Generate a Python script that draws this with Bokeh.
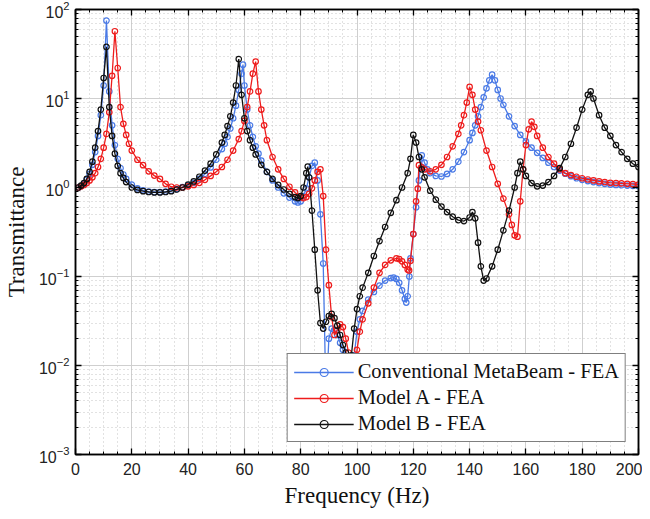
from bokeh.plotting import figure
from bokeh.models import (LinearAxis, LogAxis, SingleIntervalTicker, LogTicker,
                          Legend, LegendItem, Range1d, CustomJSTickFormatter)
from bokeh.embed import file_html
from bokeh.resources import INLINE

# ---------------- data ----------------
conv_f = [1, 2, 3, 4, 5, 6, 7, 8, 9, 10, 11, 12, 13, 14, 15, 16, 17, 18, 20, 22, 24, 26, 28, 30,
          32, 34, 36, 38, 40, 42, 44, 46, 48, 50, 52, 53, 54, 55, 56, 57, 58, 59, 59.5, 60, 61, 62,
          63, 64, 65, 66, 68, 70, 72, 74, 76, 78, 79, 80, 81, 82, 83, 84, 85, 86, 87, 88, 89, 90,
          91, 92, 93, 94, 95, 96, 97, 98, 99, 100, 101, 102, 104, 106, 108, 110, 112, 113, 114,
          115, 116, 117, 117.5, 118, 118.6, 119, 120, 121, 122, 123, 124, 125, 126, 128, 130, 132,
          134, 136, 138, 140, 141, 142, 143, 144, 145, 146, 147, 148, 149, 150, 151, 152, 154, 156,
          158, 160, 162, 164, 166, 168, 170, 172, 174, 176, 178, 180, 182, 184, 186, 188, 190, 192,
          194, 196, 198, 200]
conv_t = [1.0, 1.04, 1.1, 1.22, 1.42, 1.8, 2.5, 3.8, 6.5, 14, 75, 12, 5.0, 3.0, 2.1, 1.65, 1.4, 1.25,
          1.08, 0.98, 0.93, 0.9, 0.89, 0.89, 0.9, 0.92, 0.96, 1.01, 1.06, 1.13, 1.25, 1.42, 1.68,
          2.05, 2.7, 3.1, 3.7, 4.6, 6.0, 8.3, 12.5, 19, 24, 14, 7.5, 5.0, 3.7, 2.9, 2.4, 2.0, 1.5,
          1.2, 1.0, 0.86, 0.77, 0.7, 0.68, 0.7, 0.8, 0.98, 1.3, 1.75, 1.9, 1.2, 0.5, 0.14, 0.004,
          0.02, 0.026, 0.025, 0.022, 0.018, 0.015, 0.012, 0.009, 0.006, 0.013, 0.024, 0.033, 0.041,
          0.055, 0.067, 0.079, 0.09, 0.096, 0.097, 0.094, 0.085, 0.07, 0.056, 0.051, 0.06, 0.1,
          0.16, 0.3, 0.6, 1.2, 2.3, 1.9, 1.6, 1.45, 1.35, 1.33, 1.42, 1.6, 1.95, 2.5, 3.4, 4.1, 5.0,
          6.3, 8.0, 10.3, 13, 16, 18.5, 16, 12.5, 10, 8.5, 6.3, 4.9, 3.9, 3.3, 2.8, 2.45, 2.15, 1.9,
          1.7, 1.55, 1.43, 1.34, 1.27, 1.22, 1.18, 1.15, 1.12, 1.1, 1.08, 1.07, 1.06, 1.05, 1.045,
          1.04]

modelA_f = [1, 2, 3, 4, 5, 6, 7, 8, 9, 10, 11, 12, 13, 14, 15, 16, 17, 18, 19, 20, 22, 24, 26, 28,
            30, 32, 34, 36, 38, 40, 42, 44, 46, 48, 50, 52, 54, 56, 58, 59, 60, 61, 62, 63, 64, 65,
            66, 67, 68, 70, 72, 74, 76, 78, 80, 81, 82, 83, 84, 85, 86, 87, 88, 89, 90, 91, 92, 93,
            94, 95, 96, 97, 98, 99, 100, 101, 102, 104, 106, 108, 110, 112, 114, 115, 116, 117, 118,
            118.5, 119, 120, 121, 121.6, 122, 123, 124, 126, 128, 130, 132, 134, 136, 137, 138, 139,
            140, 141, 142, 143, 144, 146, 148, 150, 152, 154, 155, 156, 157, 158, 159, 160, 161, 162,
            163, 164, 166, 168, 170, 172, 174, 176, 178, 180, 182, 184, 186, 188, 190, 192, 194, 196,
            198, 200]
modelA_t = [1.0, 1.03, 1.07, 1.12, 1.2, 1.3, 1.45, 1.7, 2.1, 2.8, 4.0, 7.0, 18, 57, 22, 8, 5.2, 3.9,
            3.1, 2.6, 2.05, 1.78, 1.52, 1.36, 1.25, 1.1, 1.02, 1.0, 1.0, 1.03, 1.07, 1.13, 1.22, 1.35,
            1.5, 1.7, 2.05, 2.6, 3.5, 4.3, 5.6, 8, 12, 19, 26, 12, 7.5, 5.0, 3.4, 2.2, 1.6, 1.25, 1.02,
            0.88, 0.78, 0.76, 0.78, 0.85, 0.98, 1.2, 1.5, 1.6, 0.8, 0.2, 0.08, 0.035, 0.022, 0.025,
            0.029, 0.027, 0.02, 0.014, 0.01, 0.007, 0.015, 0.024, 0.033, 0.05, 0.075, 0.11, 0.135,
            0.152, 0.16, 0.157, 0.148, 0.135, 0.12, 0.117, 0.15, 0.3, 0.7, 0.97, 1.78, 1.68, 1.6,
            1.52, 1.6, 1.8, 2.2, 2.9, 4.0, 5.0, 6.5, 9, 13.5, 11, 7.5, 5.5, 4.4, 2.6, 1.7, 1.1, 0.75,
            0.5, 0.38, 0.29, 0.28, 0.7, 1.6, 3.0, 4.5, 5.5, 4.8, 3.8, 2.8, 2.2, 1.85, 1.6, 1.45, 1.38,
            1.32, 1.27, 1.23, 1.2, 1.17, 1.15, 1.13, 1.12, 1.11, 1.1, 1.09, 1.08]

modelB_f = [1, 2, 3, 4, 5, 6, 7, 8, 9, 10, 11, 12, 13, 14, 15, 16, 17, 18, 20, 22, 24, 26, 28, 30,
            32, 34, 36, 38, 40, 42, 44, 46, 48, 50, 52, 53, 54, 55, 56, 57, 58, 59, 60, 61, 62, 63,
            64, 66, 68, 70, 72, 74, 76, 78, 79, 80, 81, 82, 82.5, 83, 84, 85, 86, 87, 88, 89, 90, 91,
            92, 93, 94, 95, 96, 97, 98, 99, 100, 101, 102, 104, 106, 108, 110, 112, 114, 116, 118,
            119, 120, 121, 122, 123, 124, 126, 128, 130, 132, 134, 136, 138, 140, 141, 142, 143, 144,
            145, 146, 148, 150, 152, 154, 156, 157, 158, 159, 160, 162, 164, 166, 168, 170, 172, 174,
            176, 178, 180, 182, 183, 184, 186, 188, 190, 192, 194, 196, 198, 200]
modelB_t = [1.0, 1.05, 1.12, 1.25, 1.5, 1.95, 2.8, 4.3, 7.5, 17, 38, 8, 3.8, 2.4, 1.75, 1.45, 1.28,
            1.15, 1.0, 0.94, 0.91, 0.89, 0.88, 0.88, 0.89, 0.91, 0.95, 1.0, 1.08, 1.17, 1.32, 1.55,
            1.85, 2.35, 3.2, 3.9, 4.9, 6.3, 9.0, 14, 27.7, 11, 6.0, 4.3, 3.4, 2.8, 2.35, 1.8, 1.5,
            1.25, 1.07, 0.95, 0.85, 0.78, 0.76, 0.8, 1.0, 1.45, 1.72, 1.3, 0.55, 0.2, 0.07, 0.03,
            0.026, 0.031, 0.036, 0.038, 0.034, 0.028, 0.022, 0.017, 0.014, 0.009, 0.013, 0.026,
            0.043, 0.06, 0.075, 0.11, 0.17, 0.25, 0.36, 0.52, 0.72, 1.0, 1.45, 2.1, 3.9, 3.2, 2.2,
            1.6, 1.3, 0.92, 0.73, 0.61, 0.53, 0.47, 0.43, 0.42, 0.46, 0.53, 0.45, 0.24, 0.13, 0.09,
            0.095, 0.13, 0.2, 0.33, 0.55, 1.0, 1.45, 1.95, 1.6, 1.35, 1.12, 1.03, 1.05, 1.15, 1.35,
            1.65, 2.2, 3.1, 4.7, 7.5, 11, 12, 10, 6.5, 4.7, 3.8, 3.0, 2.5, 2.1, 1.85, 1.7]

series_names = ["Conventional MetaBeam - FEA", "Model A - FEA", "Model B - FEA"]
series_colors = ["#4a7ae6", "#ee1c1c", "#111111"]
x_ticks_interval = 20

# ---------------- figure ----------------
p = figure(width=642, height=510, y_axis_type="log",
           x_range=Range1d(0, 200), y_range=Range1d(1e-3, 1e2),
           output_backend="svg", toolbar_location=None,
           min_border_left=10, min_border_right=4, min_border_top=9, min_border_bottom=10)

p.background_fill_color = "white"
p.border_fill_color = "white"
p.outline_line_color = "black"
p.outline_line_width = 1.5

p.xaxis.ticker = SingleIntervalTicker(interval=x_ticks_interval, num_minor_ticks=4)
p.yaxis.ticker = LogTicker(num_minor_ticks=10)

for ax in [p.xaxis[0], p.yaxis[0]]:
    ax.axis_line_color = "black"
    ax.axis_line_width = 1.5
    ax.major_tick_in = 6
    ax.major_tick_out = 0
    ax.minor_tick_in = 3
    ax.minor_tick_out = 0
    ax.major_tick_line_color = "black"
    ax.minor_tick_line_color = "black"
    ax.major_tick_line_width = 1.3
    ax.major_label_text_font = "Liberation Sans"
    ax.major_label_text_font_size = "16px"
    ax.major_label_text_color = "#222222"
    ax.axis_label_text_font = "Liberation Serif"
    ax.axis_label_text_font_size = "23px"
    ax.axis_label_text_font_style = "normal"
    ax.axis_label_text_color = "#111111"

p.xaxis.axis_label = "Frequency (Hz)"
p.yaxis.axis_label = "Transmittance"
p.xaxis.major_label_standoff = 8
p.yaxis.major_label_standoff = 6
p.xaxis.axis_label_standoff = 5
p.yaxis.axis_label_standoff = 7

# mirrored axes (top / right) with inward ticks, no labels
top = LinearAxis(ticker=SingleIntervalTicker(interval=x_ticks_interval, num_minor_ticks=4),
                 formatter=CustomJSTickFormatter(code="return ''"))
right = LogAxis(ticker=LogTicker(num_minor_ticks=10),
                formatter=CustomJSTickFormatter(code="return ''"))
for ax in [top, right]:
    ax.axis_line_color = "black"
    ax.axis_line_width = 1.5
    ax.major_tick_in = 6
    ax.major_tick_out = 0
    ax.minor_tick_in = 3
    ax.minor_tick_out = 0
    ax.major_tick_line_width = 1.3
    ax.major_label_text_font_size = "10px"
    ax.major_label_standoff = 0
p.add_layout(top, "above")
p.add_layout(right, "right")

# grids
p.xgrid.ticker = p.xaxis[0].ticker
p.ygrid.ticker = p.yaxis[0].ticker
for g in [p.xgrid[0], p.ygrid[0]]:
    g.grid_line_color = "#cfcfcf"
    g.grid_line_width = 1
    g.minor_grid_line_color = "#c4c4c4"
    g.minor_grid_line_dash = "1 3"
    g.minor_grid_line_width = 1

# curves
items = []
for f, t, name, col in zip([conv_f, modelA_f, modelB_f], [conv_t, modelA_t, modelB_t],
                           series_names, series_colors):
    r1 = p.line(f, t, line_color=col, line_width=1.3)
    r2 = p.scatter(f, t, marker="circle", size=5.5, line_color=col, line_width=1.2,
                   fill_color=None)
    items.append(LegendItem(label=name, renderers=[r1, r2]))

legend = Legend(items=items, location="bottom_right")
legend.label_text_font = "Liberation Serif"
legend.label_text_font_size = "20.5px"
legend.label_text_color = "#111111"
legend.glyph_width = 60
legend.glyph_height = 20
legend.label_standoff = 4
legend.label_height = 20
legend.spacing = 3
legend.padding = 6
legend.margin = 12
legend.border_line_color = "black"
legend.border_line_width = 1.2
legend.background_fill_color = "white"
legend.background_fill_alpha = 1.0
p.add_layout(legend, "center")

open("out.html", "w").write(file_html(p, INLINE))
